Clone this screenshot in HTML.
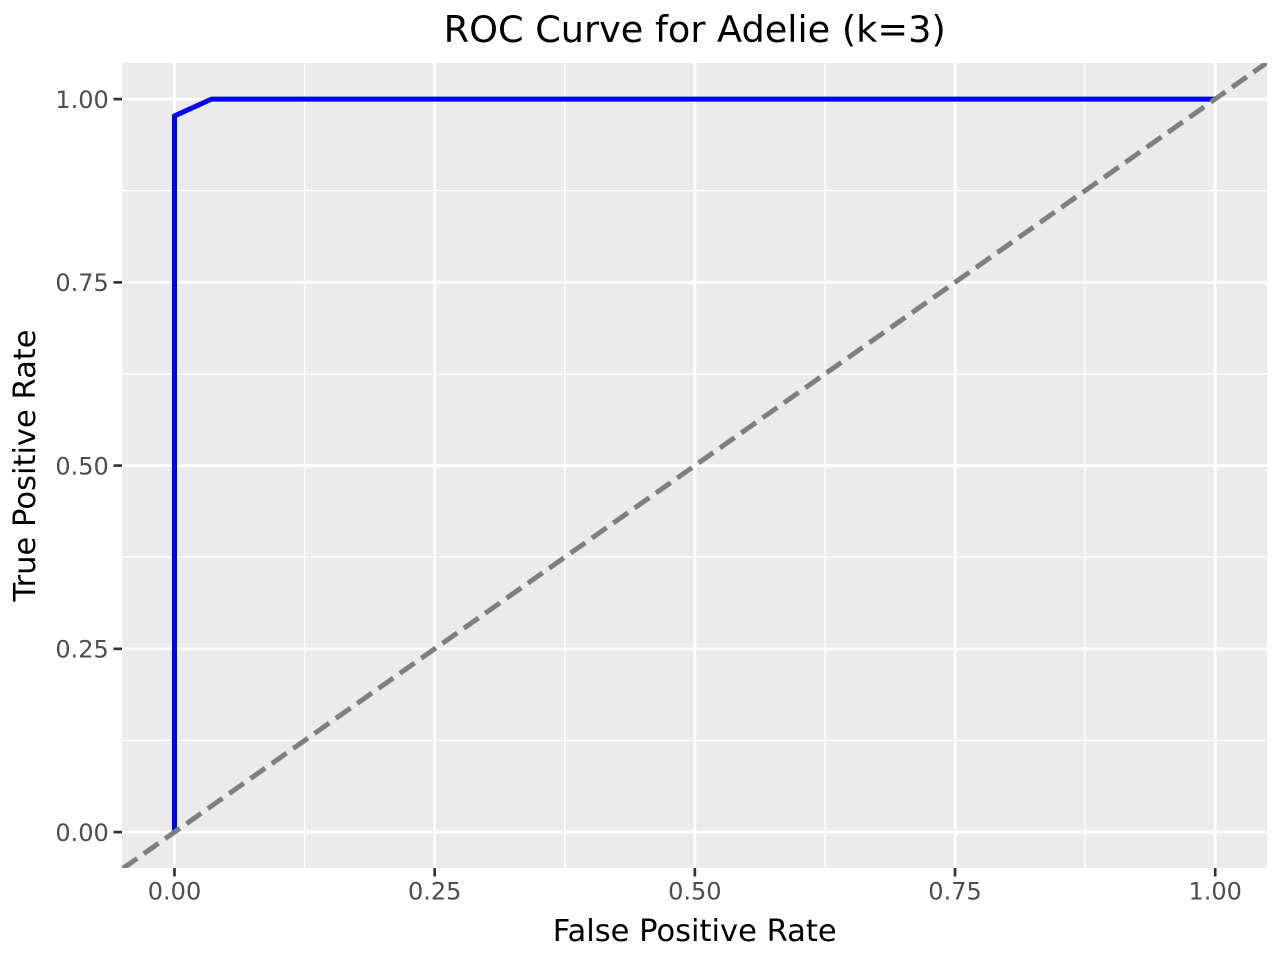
<!DOCTYPE html>
<html>
<head>
<meta charset="utf-8">
<title>ROC Curve for Adelie (k=3)</title>
<style>
html,body{margin:0;padding:0;background:#fff;width:1280px;height:960px;overflow:hidden}
svg{display:block;font-family:"DejaVu Sans","Liberation Sans",sans-serif}
</style>
</head>
<body>
<svg id="chart" xmlns="http://www.w3.org/2000/svg" width="1280" height="960" viewBox="0 0 1280 960">
<rect x="0" y="0" width="1280" height="960" fill="#ffffff"/>
<text x="694.7" y="42" font-size="36.67" text-anchor="middle" fill="#000">ROC Curve for Adelie (k=3)</text>
<text x="694.7" y="941" font-size="30.56" text-anchor="middle" fill="#000">False Positive Rate</text>
<text x="0" y="0" transform="translate(35 465.5) rotate(-90)" font-size="30.56" text-anchor="middle" fill="#000">True Positive Rate</text>
<rect x="122" y="63" width="1145" height="805" fill="#ebebeb"/>
<defs><clipPath id="panel-clip"><rect x="122" y="63" width="1145" height="805"/></clipPath></defs>
<g id="grid"></g>
<g id="ticks"></g>
<g id="marks" clip-path="url(#panel-clip)"></g>
</svg>
<script>
var xTicks = [0, 0.25, 0.5, 0.75, 1];
var yTicks = [0, 0.25, 0.5, 0.75, 1];
var xMinor = [0.125, 0.375, 0.625, 0.875];
var yMinor = [0.125, 0.375, 0.625, 0.875];
var xTickLabels = ["0.00", "0.25", "0.50", "0.75", "1.00"];
var yTickLabels = ["0.00", "0.25", "0.50", "0.75", "1.00"];
var fpr = [0, 0, 0.0355, 1];
var tpr = [0, 0.977, 1, 1];
var refX = [-0.05, 1.05];
var refY = [-0.05, 1.05];

function sx(v) { return 174.5 + v * 1040.7; }
function sy(v) { return 832.1 - v * 733; }

var NS = 'http://www.w3.org/2000/svg';
var gridG = document.getElementById('grid');
var tickG = document.getElementById('ticks');
var marksG = document.getElementById('marks');

function line(parent, x1, y1, x2, y2, stroke, w) {
  var el = document.createElementNS(NS, 'line');
  el.setAttribute('x1', x1);
  el.setAttribute('y1', y1);
  el.setAttribute('x2', x2);
  el.setAttribute('y2', y2);
  el.setAttribute('stroke', stroke);
  el.setAttribute('stroke-width', w);
  parent.appendChild(el);
  return el;
}
function label(x, y, str, anchor) {
  var el = document.createElementNS(NS, 'text');
  el.setAttribute('x', x);
  el.setAttribute('y', y);
  el.setAttribute('font-size', '24');
  el.setAttribute('fill', '#4d4d4d');
  el.setAttribute('text-anchor', anchor);
  el.textContent = str;
  tickG.appendChild(el);
  return el;
}

xMinor.forEach(function (v) {
  var el = line(gridG, sx(v), 63, sx(v), 868, '#ffffff', 1.35);
  
  
});
yMinor.forEach(function (v) {
  var el = line(gridG, 122, sy(v), 1267, sy(v), '#ffffff', 1.35);
  
  
});
xTicks.forEach(function (v, i) {
  var g = line(gridG, sx(v), 63, sx(v), 868, '#ffffff', 2.7);
  
  
  var t = line(tickG, sx(v), 868, sx(v), 876.5, '#333333', 2.7);
  
  
  var l = label(sx(v), 899.5, xTickLabels[i], 'middle');
  
  
});
yTicks.forEach(function (v, i) {
  var g = line(gridG, 122, sy(v), 1267, sy(v), '#ffffff', 2.7);
  
  
  var t = line(tickG, 113.5, sy(v), 122, sy(v), '#333333', 2.7);
  
  
  var l = label(108.8, sy(v) + 8.8, yTickLabels[i], 'end');
  
  
});

var curve = document.createElementNS(NS, 'polyline');


curve.setAttribute('points', fpr.map(function (v, i) { return sx(v) + ',' + sy(tpr[i]); }).join(' '));
curve.setAttribute('fill', 'none');
curve.setAttribute('stroke', '#0000ff');
curve.setAttribute('stroke-width', '5');
curve.setAttribute('stroke-linejoin', 'round');
marksG.appendChild(curve);

var ref = line(marksG, sx(refX[0]), sy(refY[0]), sx(refX[1]), sy(refY[1]), '#7f7f7f', 5);


ref.setAttribute('stroke-dasharray', '18 8.1');
</script>
</body>
</html>
